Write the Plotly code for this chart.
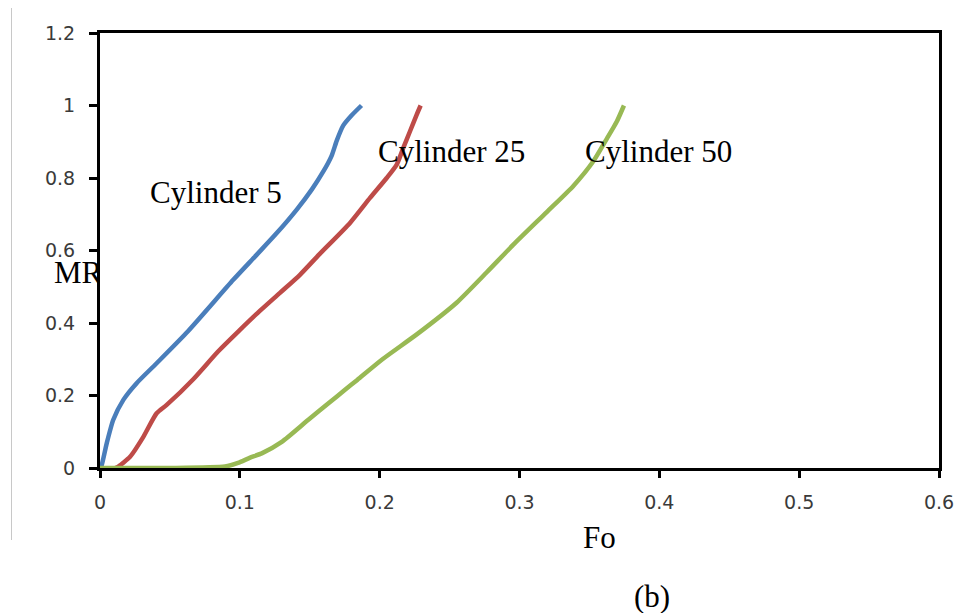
import plotly.graph_objects as go

# ---- data ----
cyl5_fo = [0.0, 0.0012, 0.0048, 0.0095, 0.0167, 0.0262, 0.0405, 0.0631, 0.0953, 0.112,
           0.1264, 0.1407, 0.1514, 0.1597, 0.1657, 0.1693, 0.174, 0.180, 0.187]
cyl5_mr = [0.0, 0.008, 0.068, 0.133, 0.188, 0.234, 0.289, 0.378, 0.519, 0.588,
           0.648, 0.713, 0.768, 0.818, 0.862, 0.903, 0.945, 0.973, 1.0]

cyl25_fo = [0.011, 0.0131, 0.0215, 0.031, 0.0405, 0.0477, 0.0667, 0.0846, 0.1001, 0.112,
            0.1287, 0.143, 0.157, 0.1788, 0.1931, 0.205, 0.2122, 0.2169, 0.2217, 0.2265,
            0.2293]
cyl25_mr = [0.0, 0.004, 0.031, 0.086, 0.151, 0.174, 0.245, 0.322, 0.381, 0.425,
            0.483, 0.533, 0.590, 0.676, 0.745, 0.80, 0.837, 0.883, 0.929, 0.975,
            1.0]

cyl50_fo = [0.0, 0.05, 0.0894, 0.0987, 0.107, 0.116, 0.130, 0.149, 0.1645, 0.175, 0.184,
            0.202, 0.227, 0.255, 0.2766, 0.2956, 0.3195, 0.3385, 0.3528, 0.3624, 0.3695,
            0.3747]
cyl50_mr = [0.0, 0.0, 0.004, 0.014, 0.028, 0.041, 0.072, 0.133, 0.182, 0.215, 0.243,
            0.300, 0.370, 0.456, 0.540, 0.616, 0.706, 0.778, 0.846, 0.908, 0.955,
            1.0]

x_ticks = [0, 0.1, 0.2, 0.3, 0.4, 0.5, 0.6]
x_tick_labels = ["0", "0.1", "0.2", "0.3", "0.4", "0.5", "0.6"]
y_ticks = [0, 0.2, 0.4, 0.6, 0.8, 1.0, 1.2]
y_tick_labels = ["0", "0.2", "0.4", "0.6", "0.8", "1", "1.2"]

series_names = ["Cylinder 5", "Cylinder 25", "Cylinder 50"]
colors = ["#4A7EBB", "#BE4B48", "#98B954"]

# The page body has an 8px margin, so the figure is drawn 8px right/down of the window corner.
OFF = 8
W, H = 975 - OFF, 613 - OFF


def px(x):  # window x pixel -> paper fraction
    return (x - OFF) / W


def py(y):  # window y pixel -> paper fraction
    return 1 - (y - OFF) / H


PL, PR, PT, PB = 100, 939, 33, 468  # plot area in window pixels

fig = go.Figure()
for xs, ys, name, c in [(cyl5_fo, cyl5_mr, series_names[0], colors[0]),
                        (cyl25_fo, cyl25_mr, series_names[1], colors[1]),
                        (cyl50_fo, cyl50_mr, series_names[2], colors[2])]:
    fig.add_trace(go.Scatter(x=xs, y=ys, mode="lines", name=name,
                             line=dict(color=c, width=4.5, shape="spline", smoothing=0.6),
                             cliponaxis=False, showlegend=False))

# "MR" axis label, clipped at the left edge of the plot area (as in the reference)
fig.add_trace(go.Scatter(x=[78 - OFF], y=[0.533], mode="text", text=["MR"],
                         textfont=dict(family="Liberation Serif", size=31, color="black"),
                         xaxis="x2", yaxis="y", cliponaxis=True, showlegend=False,
                         hoverinfo="skip"))

axis_font = dict(family="DejaVu Sans", size=19, color="#3a3a3a")
fig.update_layout(
    width=W, height=H,
    margin=dict(l=0, r=0, t=0, b=0, autoexpand=False),
    paper_bgcolor="white", plot_bgcolor="white",
    xaxis=dict(domain=[px(PL), px(PR)], range=[0, 0.6], tickvals=x_ticks, ticktext=x_tick_labels,
               showgrid=False, zeroline=False, showline=True, linecolor="black", linewidth=3,
               mirror=True, ticks="outside", ticklen=7, tickwidth=3, tickcolor="black",
               tickfont=axis_font, ticklabelstandoff=8, layer="below traces", anchor="y",
               automargin=False),
    yaxis=dict(domain=[py(PB), py(PT)], range=[0, 1.2], tickvals=y_ticks,
               ticktext=y_tick_labels, showgrid=False, zeroline=False, showline=True,
               linecolor="black", linewidth=3, mirror=True, ticks="outside", ticklen=8,
               tickwidth=3, tickcolor="black", tickfont=axis_font, ticklabelstandoff=10,
               layer="below traces", anchor="x", automargin=False),
    xaxis2=dict(domain=[0, px(PL)], range=[0, PL - OFF], anchor="y", showgrid=False,
                zeroline=False, showline=False, showticklabels=False, ticks="",
                automargin=False),
)

serif = dict(family="Liberation Serif", size=31, color="black")
for txt, xx, yy in [("Cylinder 5", 0.0826, 0.760), ("Cylinder 25", 0.2514, 0.873),
                    ("Cylinder 50", 0.3994, 0.873)]:
    fig.add_annotation(text=txt, x=xx, y=yy, xref="x", yref="y", showarrow=False, font=serif,
                       xanchor="center", yanchor="middle")

fig.add_annotation(text="Fo", x=px(599), y=py(537), xref="paper", yref="paper",
                   showarrow=False, font=serif, xanchor="center", yanchor="middle")
fig.add_annotation(text="(b)", x=px(652), y=py(596), xref="paper", yref="paper",
                   showarrow=False, font=serif, xanchor="center", yanchor="middle")

# thin grey frame edge at left of the image
fig.add_shape(type="line", xref="paper", yref="paper", x0=px(11.5), x1=px(11.5),
              y0=py(8), y1=py(540), line=dict(color="#c8c8c8", width=1))

fig.write_html("out.html")
